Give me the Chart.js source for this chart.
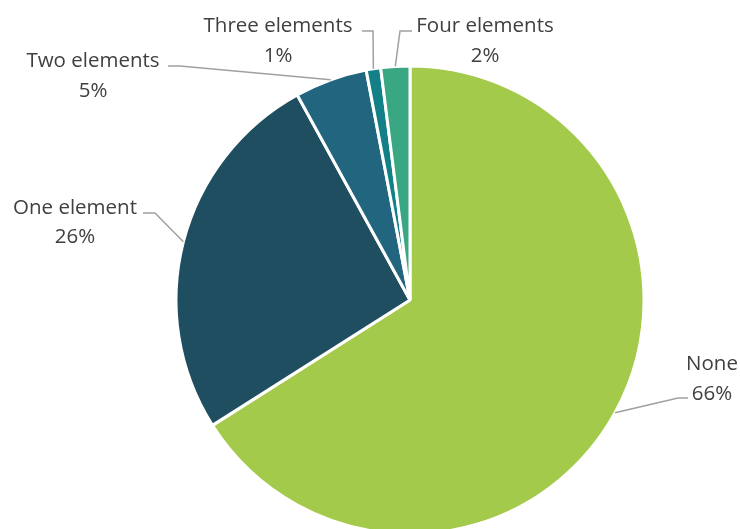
<!DOCTYPE html>
<html>
<head>
<meta charset="utf-8">
<script src="https://cdn.jsdelivr.net/npm/chart.js@4/dist/chart.umd.min.js"></script>
<style>
  html, body { margin: 0; padding: 0; background: #fff; overflow: hidden; }
  #wrap { position: relative; width: 740px; height: 529px; }
</style>
</head>
<body>
<div id="wrap"><canvas id="pie"></canvas></div>
<script>
// number of elements present — share of responses
const CATEGORIES = ['None', 'One element', 'Two elements', 'Three elements', 'Four elements'];
const SHARES = [66, 26, 5, 1, 2];
const COLORS = ['#A3CA4A', '#1F4E61', '#21657F', '#138087', '#3AA783'];

// label block placement: text centre x, first/second baselines, leader elbow and end
const LABEL_LAYOUT = [
  { x: 712, y1: 370, y2: 400, elbow: [678, 398], end: [688, 398] },
  { x: 75,  y1: 214, y2: 243, elbow: [155, 213], end: [143, 213] },
  { x: 93,  y1: 67,  y2: 97,  elbow: [180, 66],  end: [168, 66] },
  { x: 278, y1: 32,  y2: 62,  elbow: [373, 31],  end: [362, 31] },
  { x: 485, y1: 32,  y2: 62,  elbow: [400, 31],  end: [412, 31] },
];

const calloutLabels = {
  id: 'calloutLabels',
  afterDatasetsDraw(chart) {
    const ctx = chart.ctx;
    const arcs = chart.getDatasetMeta(0).data;
    ctx.save();
    arcs.forEach((arc, i) => {
      const { x, y, startAngle, endAngle, outerRadius } = arc.getProps(['x', 'y', 'startAngle', 'endAngle', 'outerRadius'], true);
      const mid = (startAngle + endAngle) / 2;
      const ax = x + Math.cos(mid) * outerRadius;
      const ay = y + Math.sin(mid) * outerRadius;
      const L = LABEL_LAYOUT[i];

      ctx.strokeStyle = '#A0A0A0';
      ctx.lineWidth = 1.5;
      ctx.beginPath();
      ctx.moveTo(ax, ay);
      ctx.lineTo(L.elbow[0], L.elbow[1]);
      ctx.lineTo(L.end[0], L.end[1]);
      ctx.stroke();

      ctx.fillStyle = '#404040';
      ctx.font = '20.5px "Open Sans", sans-serif';
      ctx.textAlign = 'center';
      ctx.textBaseline = 'alphabetic';
      ctx.fillText(CATEGORIES[i], L.x, L.y1);
      ctx.fillText(SHARES[i] + '%', L.x, L.y2);
    });
    ctx.restore();
  }
};

new Chart(document.getElementById('pie'), {
  type: 'pie',
  data: {
    labels: CATEGORIES,
    datasets: [{
      data: SHARES,
      backgroundColor: COLORS,
      borderColor: '#ffffff',
      borderWidth: 3,
    }]
  },
  options: {
    responsive: true,
    maintainAspectRatio: false,
    animation: false,
    radius: 234,
    layout: { padding: { top: 71, bottom: 0, left: 177, right: 97 } },
    plugins: {
      legend: { display: false },
      tooltip: { enabled: false },
    }
  },
  plugins: [calloutLabels]
});
</script>
</body>
</html>
